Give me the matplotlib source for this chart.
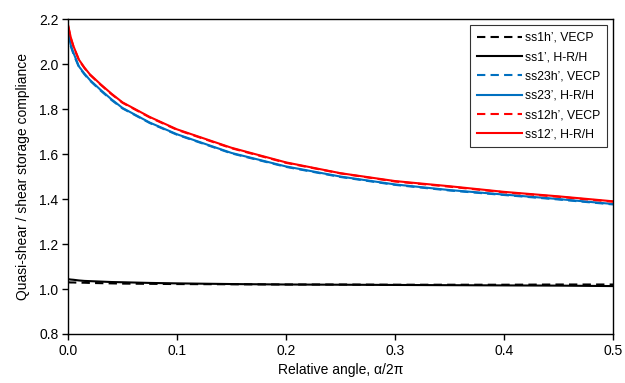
import matplotlib
matplotlib.use('Agg')
import matplotlib.pyplot as plt
from matplotlib.ticker import FormatStrFormatter

plt.rcParams['font.family'] = ['Liberation Sans', 'DejaVu Sans']

# relative angle alpha/2pi
angle = [0.0, 0.0025, 0.005, 0.01, 0.015, 0.02, 0.03, 0.04, 0.05, 0.075, 0.1, 0.15,
         0.2, 0.25, 0.3, 0.35, 0.4, 0.45, 0.5]

# compliance ratios
ss1h_vecp = [1.030, 1.029, 1.029, 1.028, 1.028, 1.027, 1.026, 1.025, 1.024, 1.023,
             1.022, 1.021, 1.020, 1.020, 1.019, 1.019, 1.019, 1.020, 1.020]
ss1_hrh = [1.044, 1.042, 1.041, 1.038, 1.036, 1.035, 1.033, 1.031, 1.030, 1.027,
           1.025, 1.022, 1.020, 1.019, 1.018, 1.017, 1.016, 1.015, 1.013]
ss23h_vecp = [2.140, 2.080, 2.045, 1.987, 1.955, 1.927, 1.882, 1.840, 1.803, 1.738,
              1.686, 1.603, 1.543, 1.498, 1.463, 1.438, 1.418, 1.398, 1.376]
ss23_hrh = [2.143, 2.085, 2.050, 1.990, 1.958, 1.930, 1.885, 1.843, 1.805, 1.740,
            1.688, 1.605, 1.545, 1.500, 1.465, 1.440, 1.420, 1.400, 1.378]
ss12h_vecp = [2.172, 2.115, 2.078, 2.018, 1.983, 1.953, 1.908, 1.866, 1.828, 1.763,
              1.708, 1.626, 1.561, 1.514, 1.478, 1.455, 1.430, 1.410, 1.388]
ss12_hrh = [2.175, 2.120, 2.080, 2.020, 1.985, 1.955, 1.910, 1.868, 1.830, 1.765,
            1.710, 1.628, 1.563, 1.515, 1.480, 1.457, 1.432, 1.412, 1.390]

blue = '#0070C0'
red = '#FF0000'

fig = plt.figure(figsize=(6.25, 3.83), dpi=100)
ax = fig.add_axes([0.1088, 0.128, 0.8720, 0.822])

dash = (0, (4, 2.5))
ax.plot(angle, ss1h_vecp, color='black', lw=1.5, ls=dash, label='ss1h’, VECP')
ax.plot(angle, ss1_hrh, color='black', lw=1.5, label='ss1’, H-R/H')
ax.plot(angle, ss23h_vecp, color=blue, lw=1.5, ls=dash, label='ss23h’, VECP')
ax.plot(angle, ss23_hrh, color=blue, lw=1.5, label='ss23’, H-R/H')
ax.plot(angle, ss12h_vecp, color=red, lw=1.5, ls=dash, label='ss12h’, VECP')
ax.plot(angle, ss12_hrh, color=red, lw=1.5, label='ss12’, H-R/H')

ax.set_xlim(0, 0.5)
ax.set_ylim(0.8, 2.2)
ax.set_xticks([0.0, 0.1, 0.2, 0.3, 0.4, 0.5])
ax.set_yticks([0.8, 1.0, 1.2, 1.4, 1.6, 1.8, 2.0, 2.2])
ax.xaxis.set_major_formatter(FormatStrFormatter('%.1f'))
ax.yaxis.set_major_formatter(FormatStrFormatter('%.1f'))
ax.tick_params(direction='out', length=4, width=1, labelsize=10, pad=3)
for s in ax.spines.values():
    s.set_linewidth(1.0)

ax.set_xlabel('Relative angle, α/2π', fontsize=10, labelpad=4)
ax.set_ylabel('Quasi-shear / shear storage compliance', fontsize=10, labelpad=6)

leg = ax.legend(loc='upper right', fontsize=8.8, frameon=True, fancybox=False,
                edgecolor='black', handlelength=3.7, handletextpad=0.25,
                labelspacing=0.6, borderpad=0.55, borderaxespad=0,
                bbox_to_anchor=(0.989, 0.981))
leg.get_frame().set_linewidth(0.8)

fig.savefig('out.png', dpi=100)
